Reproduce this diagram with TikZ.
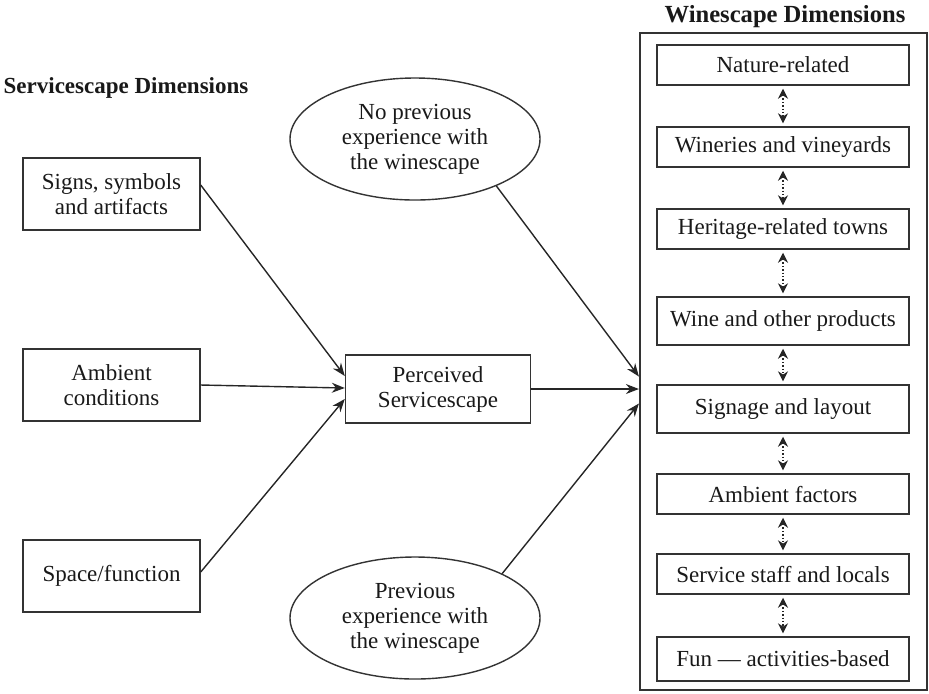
\documentclass[tikz,border=0pt]{standalone}
\usepackage{fontspec}
\setmainfont{Liberation Serif}
\usetikzlibrary{arrows.meta,shapes.geometric,calc}

\begin{document}
\begin{tikzpicture}[
		% koordinate v pikslih slike, y navzdol
		x=0.5pt, y=-0.5pt,
		font=\fontsize{11.5}{12.5}\selectfont,
		text=black!90,
		ink/.style={draw=black!80, line width=0.7pt},
		dimbox/.style={ink, minimum width=126pt, minimum height=20pt, inner sep=0pt},
		sbox/.style={ink, minimum width=88.5pt, minimum height=36pt, align=center},
		perbox/.style={ink, minimum width=92.5pt, minimum height=34pt, align=center},
		oval/.style={ink, ellipse, minimum width=125pt, minimum height=61pt, inner sep=0pt, align=center},
		arr/.style={black!85, line width=0.7pt, -{Stealth[length=6.5pt,width=5pt]}},
		dblarr/.style={black!85, line width=0.7pt, densely dotted, {Stealth[length=5pt,width=5pt]}-{Stealth[length=5pt,width=5pt]}, shorten <=1.5pt, shorten >=1.5pt},
		title/.style={font=\fontsize{12.3}{13}\selectfont\bfseries},
		]
		\useasboundingbox (0,0) rectangle (929,693);

		% naslova
		\node[title, font=\fontsize{11.5}{12.5}\selectfont\bfseries] (stitle) at (126,88) {Servicescape Dimensions};
		\node[title] (wtitle) at (785,17) {Winescape Dimensions};

		% levi stolpec
		\node[sbox] (signs) at (111.5,194) {Signs, symbols\\and artifacts};
		\node[sbox] (ambient) at (111.5,385) {Ambient\\conditions};
		\node[sbox] (space) at (111.5,576) {Space/function};

		\node[perbox] (perc) at (438,389) {Perceived\\Servicescape};

		\node[oval] (noprev) at (415,139) {No previous\\experience with\\the winescape};
		\node[oval] (prev) at (415,618) {Previous\\experience with\\the winescape};

		% desni okvir
		\node[ink, line width=1.1pt, minimum width=143.5pt, minimum height=328.5pt] (wbox) at (783.5,361.5) {};
		\node[dimbox] (w1) at (783,65) {Nature-related};
		\node[dimbox] (w2) at (783,147) {Wineries and vineyards};
		\node[dimbox] (w3) at (783,229) {Heritage-related towns};
		\node[dimbox, minimum height=24pt] (w4) at (783,321) {Wine and other products};
		\node[dimbox, minimum height=24pt] (w5) at (783,409) {Signage and layout};
		\node[dimbox] (w6) at (783,494) {Ambient factors};
		\node[dimbox] (w7) at (783,574) {Service staff and locals};
		\node[dimbox, minimum height=22pt] (w8) at (783,659) {Fun --- activities-based};

		\foreach \a/\b in {w1/w2,w2/w3,w3/w4,w4/w5,w5/w6,w6/w7,w7/w8}
			\draw[dblarr] (\a.south) -- (\b.north);

		% puscice
		\draw[arr] ($(signs.east)+(0,-9)$) -- ($(perc.west)+(0,-13)$);
		\draw[arr] (ambient.east) -- ($(perc.west)+(0,-1)$);
		\draw[arr] ($(space.east)+(0,-4)$) -- ($(perc.west)+(0,10)$);
		\draw[arr] (perc.east) -- (perc.east -| wbox.west);
		\draw[arr] (noprev.-30) -- ($(wbox.west)+(0,15)$);
		\draw[arr] (prev.27) -- ($(wbox.west)+(0,42)$);
	\end{tikzpicture}
\end{document}
